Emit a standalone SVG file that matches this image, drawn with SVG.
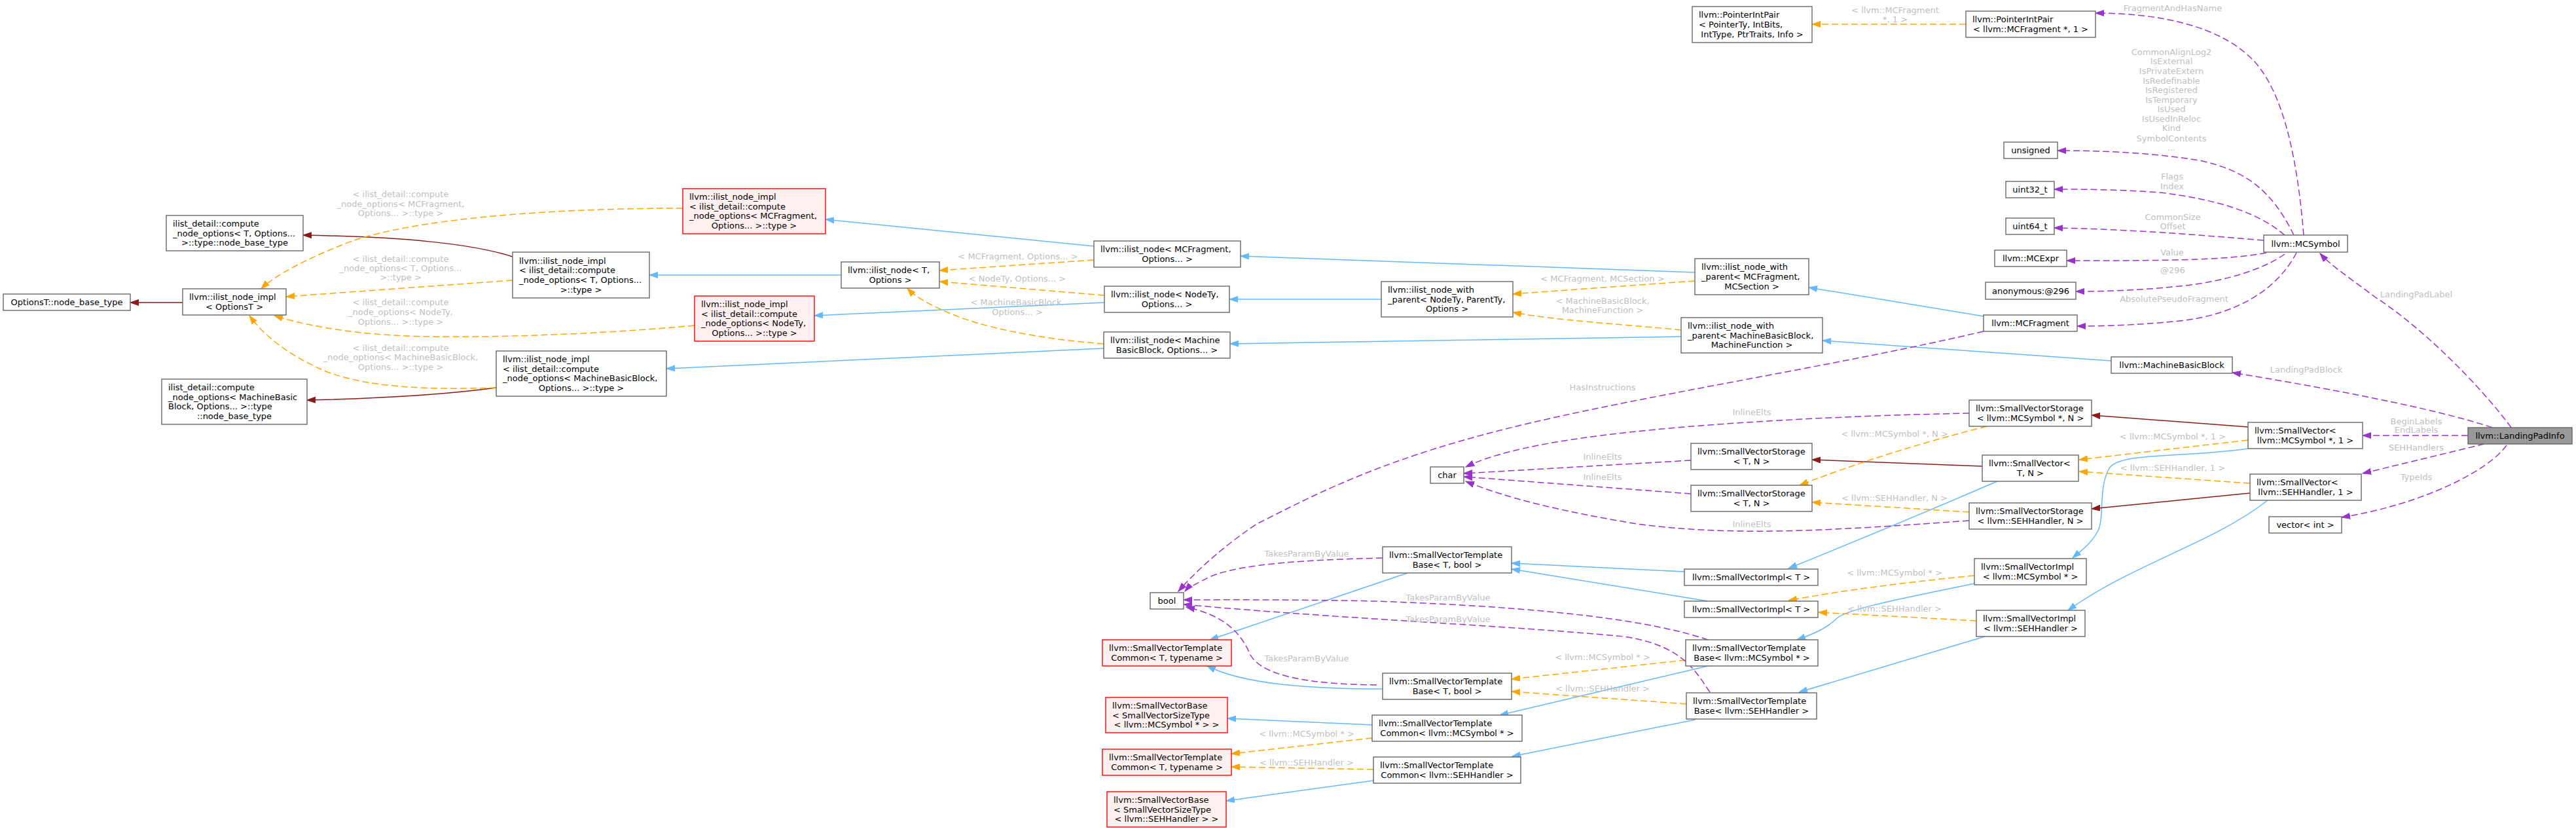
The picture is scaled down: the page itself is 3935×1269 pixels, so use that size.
<svg xmlns="http://www.w3.org/2000/svg" width="3935" height="1269" viewBox="0 0 3935 1269">
<style>
text{font-family:"DejaVu Sans","Liberation Sans",sans-serif;font-size:13px;fill:#000}
.nd rect{fill:#fff;stroke:#666;stroke-width:1.4}
.rd rect{fill:#fff0f0;stroke:#f00;stroke-width:1.4}
.hl rect{fill:#999;stroke:#666;stroke-width:1.4}
.c{text-anchor:middle}
.lb text{fill:#c0c0c0;text-anchor:middle}
#edges path{fill:none;stroke-width:1.5}
.bl{stroke:#63b8ff;marker-end:url(#ab)}
.dr{stroke:#8b1a1a;marker-end:url(#ar)}
.or{stroke:#ffa500;stroke-dasharray:10,5;marker-end:url(#ao)}
.pu{stroke:#9a32cd;stroke-dasharray:10,5;marker-end:url(#ap)}
</style>
<defs>
<marker id="ab" markerUnits="userSpaceOnUse" markerWidth="14" markerHeight="10" refX="13" refY="5" orient="auto"><path d="M0,0.5L13,5L0,9.5z" fill="#63b8ff" stroke="#63b8ff"/></marker>
<marker id="ar" markerUnits="userSpaceOnUse" markerWidth="14" markerHeight="10" refX="13" refY="5" orient="auto"><path d="M0,0.5L13,5L0,9.5z" fill="#8b1a1a" stroke="#8b1a1a"/></marker>
<marker id="ao" markerUnits="userSpaceOnUse" markerWidth="14" markerHeight="10" refX="13" refY="5" orient="auto"><path d="M0,0.5L13,5L0,9.5z" fill="#ffa500" stroke="#ffa500"/></marker>
<marker id="ap" markerUnits="userSpaceOnUse" markerWidth="14" markerHeight="10" refX="13" refY="5" orient="auto"><path d="M0,0.5L13,5L0,9.5z" fill="#9a32cd" stroke="#9a32cd"/></marker>
</defs>
<rect width="3935" height="1269" fill="#fff"/>
<g id="edges">
<path class="bl" d="M1285,420L992,420"/>
<path class="bl" d="M1671,376L1261,335"/>
<path class="bl" d="M1687,462L1244,482"/>
<path class="bl" d="M1686,532L1018,563"/>
<path class="bl" d="M2110,457L1878,457"/>
<path class="bl" d="M2589,416L1895,391"/>
<path class="bl" d="M2568,514L1879,525"/>
<path class="bl" d="M3030,483L2763,439"/>
<path class="bl" d="M3225,551L2784,520"/>
<path class="bl" d="M3051,735Q2900,800 2732,868"/>
<path class="bl" d="M3434,685C3330,700 3240,690 3222,715C3205,745 3215,790 3205,810C3195,830 3180,840 3166,852"/>
<path class="bl" d="M3464,764C3380,830 3260,860 3159,932"/>
<path class="bl" d="M2573,873L2309,860"/>
<path class="bl" d="M2609,918L2309,869"/>
<path class="bl" d="M2150,875L1848,977"/>
<path class="bl" d="M2112,1052C2000,1052 1900,1045 1844,1017"/>
<path class="bl" d="M3016,891C2900,915 2820,930 2805,945C2790,960 2770,968 2745,977"/>
<path class="bl" d="M3032,972L2748,1057"/>
<path class="bl" d="M2609,1017L2291,1092"/>
<path class="bl" d="M2590,1099L2310,1155"/>
<path class="bl" d="M2096,1107L1875,1097"/>
<path class="bl" d="M2098,1192L1873,1223"/>
<path class="dr" d="M279,462L199,462"/>
<path class="dr" d="M783,392C720,372 620,362 463,359"/>
<path class="dr" d="M758,592C700,600 600,608 469,611"/>
<path class="dr" d="M3434,652L3195,634"/>
<path class="dr" d="M3437,753L3195,777"/>
<path class="dr" d="M3028,712L2768,702"/>
<path class="or" d="M1043,318C800,318 600,340 520,375C470,395 420,420 399,441"/>
<path class="or" d="M783,428L437,453"/>
<path class="or" d="M1061,497C900,512 700,518 600,512C520,507 460,495 419,482"/>
<path class="or" d="M758,592C640,596 560,590 500,568C445,545 405,515 381,482"/>
<path class="or" d="M1671,397L1435,413"/>
<path class="or" d="M1687,451L1435,430"/>
<path class="or" d="M1686,525C1590,518 1500,500 1450,478C1420,465 1400,455 1386,440"/>
<path class="or" d="M2589,429L2311,449"/>
<path class="or" d="M2568,504C2480,495 2380,490 2311,477"/>
<path class="or" d="M3003,37L2768,37"/>
<path class="or" d="M3434,672L3176,702"/>
<path class="or" d="M3437,738L3176,720"/>
<path class="or" d="M3035,651Q2880,690 2749,741"/>
<path class="or" d="M3008,782L2768,767"/>
<path class="or" d="M3016,879Q2850,895 2732,917"/>
<path class="or" d="M3019,948L2778,935"/>
<path class="or" d="M2575,1008L2309,1037"/>
<path class="or" d="M2576,1075L2309,1056"/>
<path class="or" d="M2096,1127L1881,1151"/>
<path class="or" d="M2098,1175L1881,1171"/>
<path class="pu" d="M3519,359C3510,250 3490,140 3440,90C3390,40 3300,20 3201,20"/>
<path class="pu" d="M3504,359C3470,290 3430,260 3360,245C3280,232 3200,230 3143,230"/>
<path class="pu" d="M3490,359C3450,325 3390,305 3300,294C3230,289 3180,289 3138,289"/>
<path class="pu" d="M3458,367C3350,358 3250,350 3138,348"/>
<path class="pu" d="M3462,386C3400,398 3300,398 3157,398"/>
<path class="pu" d="M3490,388C3460,410 3400,430 3330,437C3260,444 3210,445 3171,445"/>
<path class="pu" d="M3508,386C3480,440 3420,480 3330,490C3260,497 3210,498 3173,498"/>
<path class="pu" d="M3836,653C3790,590 3700,500 3630,455C3590,425 3560,405 3544,387"/>
<path class="pu" d="M3807,653C3740,630 3600,600 3410,569"/>
<path class="pu" d="M3770,665L3609,665"/>
<path class="pu" d="M3795,678L3609,723"/>
<path class="pu" d="M3829,680C3800,720 3700,770 3577,790"/>
<path class="pu" d="M3030,506C2800,560 2500,605 2300,655C2100,705 2000,760 1920,800C1860,840 1820,880 1800,903"/>
<path class="pu" d="M3008,631C2800,635 2500,650 2350,680C2290,692 2260,703 2239,713"/>
<path class="pu" d="M2583,703L2236,723"/>
<path class="pu" d="M2583,754L2236,728"/>
<path class="pu" d="M3008,795C2800,810 2650,820 2500,800C2380,780 2300,760 2239,735"/>
<path class="pu" d="M2112,852C2000,855 1900,860 1850,880C1830,890 1815,897 1810,903"/>
<path class="pu" d="M2609,977C2500,940 2300,925 2100,918C1950,915 1850,916 1808,916"/>
<path class="pu" d="M2612,1057C2590,1025 2570,985 2480,972C2300,955 2050,945 1808,923"/>
<path class="pu" d="M2103,1046C2010,1045 1930,1035 1910,1000C1895,965 1870,940 1812,927"/>
</g>
<g id="edge-labels" class="lb">
<text x="612" y="301">&lt; ilist_detail::compute</text><text x="612" y="316">_node_options&lt; MCFragment,</text><text x="612" y="330">Options... &gt;::type &gt;</text>
<text x="612" y="400">&lt; ilist_detail::compute</text><text x="612" y="414">_node_options&lt; T, Options...</text><text x="612" y="428">&gt;::type &gt;</text>
<text x="612" y="466">&lt; ilist_detail::compute</text><text x="612" y="481">_node_options&lt; NodeTy,</text><text x="612" y="496">Options... &gt;::type &gt;</text>
<text x="612" y="536">&lt; ilist_detail::compute</text><text x="612" y="550">_node_options&lt; MachineBasicBlock,</text><text x="612" y="565">Options... &gt;::type &gt;</text>
<text x="1555" y="396">&lt; MCFragment, Options... &gt;</text>
<text x="1554" y="430">&lt; NodeTy, Options... &gt;</text>
<text x="1554" y="466">&lt; MachineBasicBlock,</text><text x="1554" y="481">Options... &gt;</text>
<text x="2448" y="430">&lt; MCFragment, MCSection &gt;</text>
<text x="2448" y="464">&lt; MachineBasicBlock,</text><text x="2448" y="478">MachineFunction &gt;</text>
<text x="2448" y="596">HasInstructions</text>
<text x="2676" y="634">InlineElts</text>
<text x="2448" y="702">InlineElts</text>
<text x="2448" y="733">InlineElts</text>
<text x="2676" y="805">InlineElts</text>
<text x="2894" y="667">&lt; llvm::MCSymbol *, N &gt;</text>
<text x="2894" y="765">&lt; llvm::SEHHandler, N &gt;</text>
<text x="2894" y="879">&lt; llvm::MCSymbol * &gt;</text>
<text x="2894" y="934">&lt; llvm::SEHHandler &gt;</text>
<text x="1996" y="850">TakesParamByValue</text>
<text x="2212" y="917">TakesParamByValue</text>
<text x="2212" y="950">TakesParamByValue</text>
<text x="1996" y="1010">TakesParamByValue</text>
<text x="2448" y="1008">&lt; llvm::MCSymbol * &gt;</text>
<text x="2448" y="1056">&lt; llvm::SEHHandler &gt;</text>
<text x="1996" y="1125">&lt; llvm::MCSymbol * &gt;</text>
<text x="1996" y="1169">&lt; llvm::SEHHandler &gt;</text>
<text x="2895" y="20">&lt; llvm::MCFragment</text><text x="2895" y="34">*, 1 &gt;</text>
<text x="3319" y="17">FragmentAndHasName</text>
<text x="3317" y="84">CommonAlignLog2</text><text x="3317" y="98">IsExternal</text><text x="3317" y="113">IsPrivateExtern</text><text x="3317" y="128">IsRedefinable</text><text x="3317" y="142">IsRegistered</text><text x="3317" y="157">IsTemporary</text><text x="3317" y="171">IsUsed</text><text x="3317" y="186">IsUsedInReloc</text><text x="3317" y="200">Kind</text><text x="3317" y="216">SymbolContents</text><text x="3317" y="230">...</text>
<text x="3318" y="274">Flags</text><text x="3318" y="289">Index</text>
<text x="3319" y="336">CommonSize</text><text x="3319" y="350">Offset</text>
<text x="3318" y="390">Value</text>
<text x="3319" y="417">@296</text>
<text x="3321" y="461">AbsolutePseudoFragment</text>
<text x="3691" y="454">LandingPadLabel</text>
<text x="3523" y="569">LandingPadBlock</text>
<text x="3691" y="648">BeginLabels</text><text x="3691" y="661">EndLabels</text>
<text x="3319" y="671">&lt; llvm::MCSymbol *, 1 &gt;</text>
<text x="3691" y="688">SEHHandlers</text>
<text x="3319" y="719">&lt; llvm::SEHHandler, 1 &gt;</text>
<text x="3691" y="733">TypeIds</text>
</g>
<g id="n1" class="nd"><rect x="5" y="449" width="194" height="25"/><text class="c" x="102" y="466.1">OptionsT::node_base_type</text></g>
<g id="n2" class="nd"><rect x="279" y="441" width="158" height="40"/><text x="289" y="458.3">llvm::ilist_node_impl</text><text class="c" x="358" y="472.9">&lt; OptionsT &gt;</text></g>
<g id="n3" class="nd"><rect x="254" y="329" width="209" height="54"/><text x="264" y="345.9">ilist_detail::compute</text><text x="264" y="360.6">_node_options&lt; T, Options...</text><text class="c" x="358.5" y="375.3">&gt;::type::node_base_type</text></g>
<g id="n4" class="nd"><rect x="247" y="579" width="222" height="69"/><text x="257" y="596.1">ilist_detail::compute</text><text x="257" y="610.8">_node_options&lt; MachineBasic</text><text x="257" y="625.4">Block, Options... &gt;::type</text><text class="c" x="358" y="640.1">::node_base_type</text></g>
<g id="n5" class="nd"><rect x="783" y="385" width="209" height="70"/><text x="793" y="402.6">llvm::ilist_node_impl</text><text x="793" y="417.3">&lt; ilist_detail::compute</text><text x="793" y="431.9">_node_options&lt; T, Options...</text><text class="c" x="887.5" y="446.6">&gt;::type &gt;</text></g>
<g id="n6" class="nd"><rect x="758" y="536" width="260" height="69"/><text x="768" y="553.1">llvm::ilist_node_impl</text><text x="768" y="567.8">&lt; ilist_detail::compute</text><text x="768" y="582.4">_node_options&lt; MachineBasicBlock,</text><text class="c" x="888" y="597.1">Options... &gt;::type &gt;</text></g>
<g id="n7" class="rd"><rect x="1043" y="288" width="218" height="69"/><text x="1053" y="305.1">llvm::ilist_node_impl</text><text x="1053" y="319.8">&lt; ilist_detail::compute</text><text x="1053" y="334.4">_node_options&lt; MCFragment,</text><text class="c" x="1152" y="349.1">Options... &gt;::type &gt;</text></g>
<g id="n8" class="rd"><rect x="1061" y="452" width="183" height="69"/><text x="1071" y="469.1">llvm::ilist_node_impl</text><text x="1071" y="483.8">&lt; ilist_detail::compute</text><text x="1071" y="498.4">_node_options&lt; NodeTy,</text><text class="c" x="1152.5" y="513.1">Options... &gt;::type &gt;</text></g>
<g id="n9" class="nd"><rect x="1285" y="400" width="150" height="40"/><text x="1295" y="417.3">llvm::ilist_node&lt; T,</text><text class="c" x="1360" y="431.9">Options &gt;</text></g>
<g id="n10" class="nd"><rect x="1671" y="368" width="224" height="40"/><text x="1681" y="385.3">llvm::ilist_node&lt; MCFragment,</text><text class="c" x="1783" y="399.9">Options... &gt;</text></g>
<g id="n11" class="nd"><rect x="1687" y="437" width="191" height="40"/><text x="1697" y="454.3">llvm::ilist_node&lt; NodeTy,</text><text class="c" x="1782.5" y="468.9">Options... &gt;</text></g>
<g id="n12" class="nd"><rect x="1686" y="507" width="193" height="40"/><text x="1696" y="524.3">llvm::ilist_node&lt; Machine</text><text class="c" x="1782.5" y="538.9">BasicBlock, Options... &gt;</text></g>
<g id="n13" class="nd"><rect x="2110" y="430" width="201" height="54"/><text x="2120" y="446.9">llvm::ilist_node_with</text><text x="2120" y="461.6">_parent&lt; NodeTy, ParentTy,</text><text class="c" x="2210.5" y="476.3">Options &gt;</text></g>
<g id="n14" class="nd"><rect x="2589" y="395" width="174" height="55"/><text x="2599" y="412.4">llvm::ilist_node_with</text><text x="2599" y="427.1">_parent&lt; MCFragment,</text><text class="c" x="2676" y="441.8">MCSection &gt;</text></g>
<g id="n15" class="nd"><rect x="2568" y="485" width="216" height="54"/><text x="2578" y="501.9">llvm::ilist_node_with</text><text x="2578" y="516.6">_parent&lt; MachineBasicBlock,</text><text class="c" x="2676" y="531.3">MachineFunction &gt;</text></g>
<g id="n16" class="nd"><rect x="2585" y="10" width="183" height="55"/><text x="2595" y="27.4">llvm::PointerIntPair</text><text x="2595" y="42.1">&lt; PointerTy, IntBits,</text><text class="c" x="2676.5" y="56.8">IntType, PtrTraits, Info &gt;</text></g>
<g id="n17" class="nd"><rect x="3003" y="17" width="198" height="40"/><text x="3013" y="34.3">llvm::PointerIntPair</text><text class="c" x="3102" y="48.9">&lt; llvm::MCFragment *, 1 &gt;</text></g>
<g id="n18" class="nd"><rect x="3061" y="217" width="82" height="25"/><text class="c" x="3102" y="234.1">unsigned</text></g>
<g id="n19" class="nd"><rect x="3064" y="277" width="74" height="25"/><text class="c" x="3101" y="294.1">uint32_t</text></g>
<g id="n20" class="nd"><rect x="3064" y="333" width="74" height="25"/><text class="c" x="3101" y="350.1">uint64_t</text></g>
<g id="n21" class="nd"><rect x="3047" y="382" width="110" height="25"/><text class="c" x="3102" y="399.1">llvm::MCExpr</text></g>
<g id="n22" class="nd"><rect x="3033" y="431" width="138" height="26"/><text class="c" x="3102" y="448.6">anonymous:@296</text></g>
<g id="n23" class="nd"><rect x="3030" y="481" width="143" height="25"/><text class="c" x="3101.5" y="498.1">llvm::MCFragment</text></g>
<g id="n24" class="nd"><rect x="3225" y="545" width="185" height="25"/><text class="c" x="3317.5" y="562.1">llvm::MachineBasicBlock</text></g>
<g id="n25" class="nd"><rect x="3458" y="359" width="128" height="26"/><text class="c" x="3522" y="376.6">llvm::MCSymbol</text></g>
<g id="n26" class="hl"><rect x="3770" y="653" width="159" height="25"/><text class="c" x="3849.5" y="670.1">llvm::LandingPadInfo</text></g>
<g id="n27" class="nd"><rect x="3008" y="611" width="187" height="40"/><text x="3018" y="628.3">llvm::SmallVectorStorage</text><text class="c" x="3101.5" y="642.9">&lt; llvm::MCSymbol *, N &gt;</text></g>
<g id="n28" class="nd"><rect x="3434" y="645" width="175" height="40"/><text x="3444" y="662.3">llvm::SmallVector&lt;</text><text class="c" x="3521.5" y="676.9">llvm::MCSymbol *, 1 &gt;</text></g>
<g id="n29" class="nd"><rect x="3028" y="695" width="147" height="40"/><text x="3038" y="712.3">llvm::SmallVector&lt;</text><text class="c" x="3101.5" y="726.9">T, N &gt;</text></g>
<g id="n30" class="nd"><rect x="3437" y="724" width="170" height="40"/><text x="3447" y="741.3">llvm::SmallVector&lt;</text><text class="c" x="3522" y="755.9">llvm::SEHHandler, 1 &gt;</text></g>
<g id="n31" class="nd"><rect x="3008" y="768" width="187" height="40"/><text x="3018" y="785.3">llvm::SmallVectorStorage</text><text class="c" x="3101.5" y="799.9">&lt; llvm::SEHHandler, N &gt;</text></g>
<g id="n32" class="nd"><rect x="3466" y="789" width="111" height="25"/><text class="c" x="3521.5" y="806.1">vector&lt; int &gt;</text></g>
<g id="n33" class="nd"><rect x="2185" y="713" width="51" height="25"/><text class="c" x="2210.5" y="730.1">char</text></g>
<g id="n34" class="nd"><rect x="2583" y="677" width="185" height="40"/><text x="2593" y="694.3">llvm::SmallVectorStorage</text><text class="c" x="2675.5" y="708.9">&lt; T, N &gt;</text></g>
<g id="n35" class="nd"><rect x="2583" y="741" width="185" height="40"/><text x="2593" y="758.3">llvm::SmallVectorStorage</text><text class="c" x="2675.5" y="772.9">&lt; T, N &gt;</text></g>
<g id="n36" class="nd"><rect x="2112" y="835" width="197" height="40"/><text x="2122" y="852.3">llvm::SmallVectorTemplate</text><text class="c" x="2210.5" y="866.9">Base&lt; T, bool &gt;</text></g>
<g id="n37" class="nd"><rect x="2573" y="869" width="204" height="25"/><text class="c" x="2675" y="886.1">llvm::SmallVectorImpl&lt; T &gt;</text></g>
<g id="n38" class="nd"><rect x="2573" y="918" width="204" height="25"/><text class="c" x="2675" y="935.1">llvm::SmallVectorImpl&lt; T &gt;</text></g>
<g id="n39" class="nd"><rect x="1757" y="905" width="51" height="25"/><text class="c" x="1782.5" y="922.1">bool</text></g>
<g id="n40" class="rd"><rect x="1684" y="977" width="197" height="40"/><text x="1694" y="994.3">llvm::SmallVectorTemplate</text><text class="c" x="1782.5" y="1008.9">Common&lt; T, typename &gt;</text></g>
<g id="n41" class="nd"><rect x="2575" y="977" width="202" height="40"/><text x="2585" y="994.3">llvm::SmallVectorTemplate</text><text class="c" x="2676" y="1008.9">Base&lt; llvm::MCSymbol * &gt;</text></g>
<g id="n42" class="nd"><rect x="2112" y="1028" width="197" height="40"/><text x="2122" y="1045.3">llvm::SmallVectorTemplate</text><text class="c" x="2210.5" y="1059.9">Base&lt; T, bool &gt;</text></g>
<g id="n43" class="nd"><rect x="2576" y="1058" width="199" height="40"/><text x="2586" y="1075.3">llvm::SmallVectorTemplate</text><text class="c" x="2675.5" y="1089.9">Base&lt; llvm::SEHHandler &gt;</text></g>
<g id="n44" class="rd"><rect x="1689" y="1065" width="186" height="54"/><text x="1699" y="1081.9">llvm::SmallVectorBase</text><text x="1699" y="1096.6">&lt; SmallVectorSizeType</text><text class="c" x="1782" y="1111.3">&lt; llvm::MCSymbol * &gt; &gt;</text></g>
<g id="n45" class="nd"><rect x="2096" y="1092" width="229" height="40"/><text x="2106" y="1109.3">llvm::SmallVectorTemplate</text><text class="c" x="2210.5" y="1123.9">Common&lt; llvm::MCSymbol * &gt;</text></g>
<g id="n46" class="rd"><rect x="1684" y="1144" width="197" height="40"/><text x="1694" y="1161.3">llvm::SmallVectorTemplate</text><text class="c" x="1782.5" y="1175.9">Common&lt; T, typename &gt;</text></g>
<g id="n47" class="nd"><rect x="2098" y="1156" width="225" height="40"/><text x="2108" y="1173.3">llvm::SmallVectorTemplate</text><text class="c" x="2210.5" y="1187.9">Common&lt; llvm::SEHHandler &gt;</text></g>
<g id="n48" class="rd"><rect x="1691" y="1209" width="182" height="54"/><text x="1701" y="1225.9">llvm::SmallVectorBase</text><text x="1701" y="1240.6">&lt; SmallVectorSizeType</text><text class="c" x="1782" y="1255.3">&lt; llvm::SEHHandler &gt; &gt;</text></g>
<g id="n49" class="nd"><rect x="3016" y="853" width="171" height="40"/><text x="3026" y="870.3">llvm::SmallVectorImpl</text><text class="c" x="3101.5" y="884.9">&lt; llvm::MCSymbol * &gt;</text></g>
<g id="n50" class="nd"><rect x="3019" y="932" width="166" height="40"/><text x="3029" y="949.3">llvm::SmallVectorImpl</text><text class="c" x="3102" y="963.9">&lt; llvm::SEHHandler &gt;</text></g>
</svg>
